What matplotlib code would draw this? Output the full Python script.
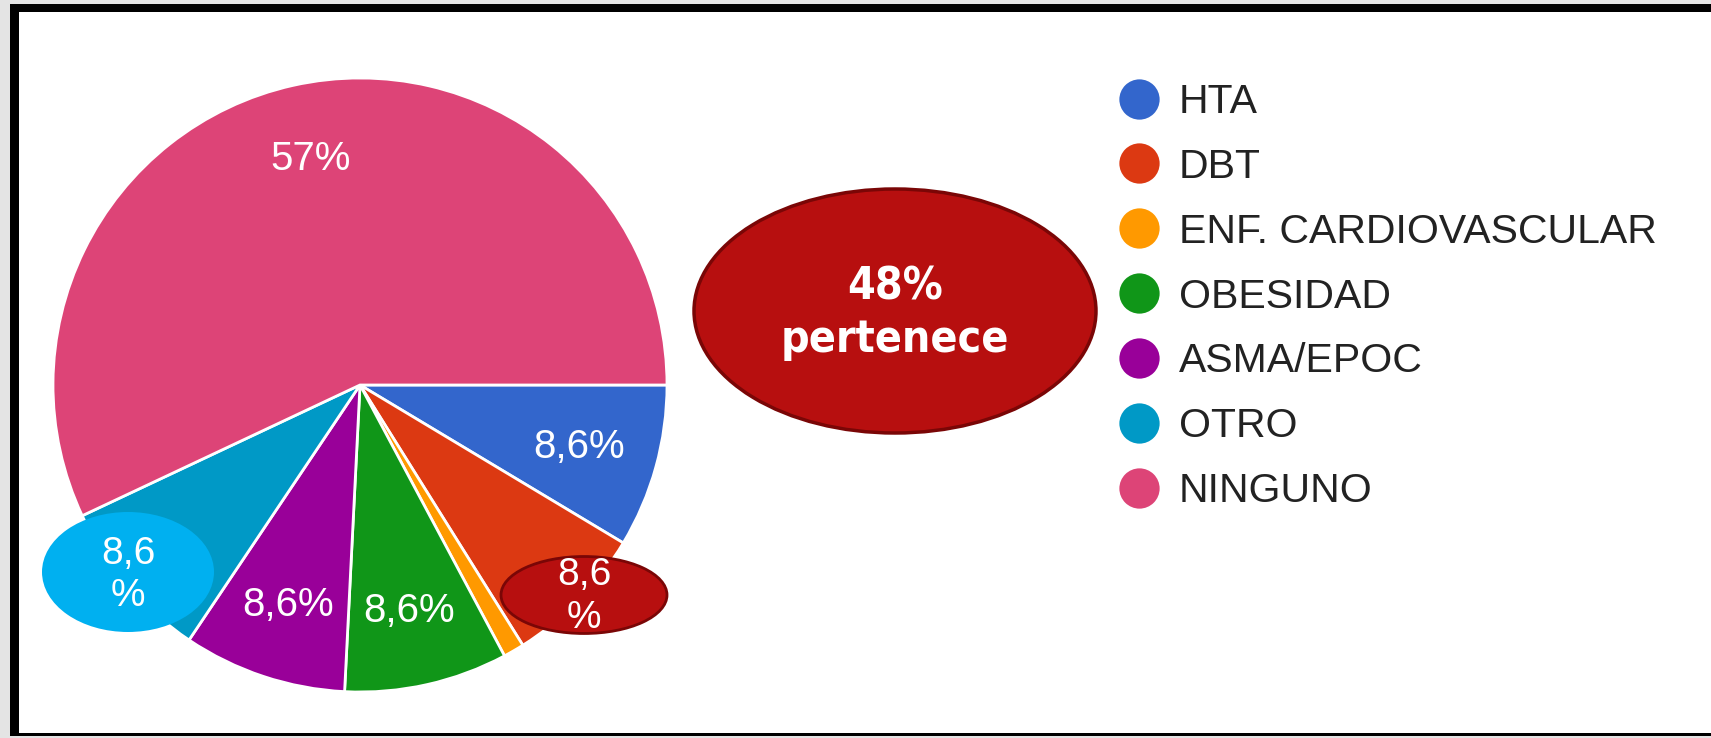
import matplotlib
matplotlib.use('Agg')
import matplotlib.pyplot as plt
import numpy as np
from matplotlib import font_manager
from matplotlib.patches import Ellipse, Rectangle
from matplotlib.lines import Line2D

# datos
categorias = ['HTA', 'DBT', 'ENF. CARDIOVASCULAR', 'OBESIDAD', 'ASMA/EPOC', 'OTRO', 'NINGUNO']
valores = [8.6, 7.5, 1.1, 8.6, 8.6, 8.6, 57.0]
etiquetas = ['8,6%', '', '', '8,6%', '8,6%', '', '57%']
colores = ['#3366cc', '#dc3912', '#ff9900', '#109618', '#990099', '#0099c6', '#dd4477']
texto_globo = '48%\npertenece'
texto_otro = '8,6\n%'
texto_dbt = '8,6\n%'

W, H = 1711, 738
plt.rcParams['font.family'] = ['Liberation Sans', 'DejaVu Sans']

# fuente angosta para el globo, si hay alguna instalada
angosta = None
for f in font_manager.fontManager.ttflist:
    if ('Narrow' in f.name or 'Condensed' in f.name or f.stretch == 'condensed'
            or f.stretch == 500) and f.weight in ('bold', 700, 800, 900, 'heavy', 'black'):
        angosta = f
        break
if angosta is not None:
    globo_kw = dict(fontproperties=font_manager.FontProperties(fname=angosta.fname, size=32))
else:
    globo_kw = dict(fontsize=31, fontweight='bold')

fig = plt.figure(figsize=(W / 100, H / 100), dpi=100)
fig.patch.set_facecolor('#e4e4e4')
ax = fig.add_axes([0, 0, 1, 1])

# torta
cx, cy, r = 360, H - 385, 307
wedges, _ = ax.pie(valores, colors=colores, startangle=0, counterclock=False,
                   center=(cx, cy), radius=r,
                   wedgeprops=dict(edgecolor='white', linewidth=2))
# pie() cambia los limites, se fijan despues
ax.set_xlim(0, W)
ax.set_ylim(0, H)
ax.set_aspect('equal')
ax.axis('off')

# marco
ax.add_patch(Rectangle((10, 2), W, H - 6, facecolor='black', edgecolor='none', zorder=-2))
ax.add_patch(Rectangle((19, 5), W, H - 17, facecolor='white', edgecolor='none', zorder=-1))

for w, lab in zip(wedges, etiquetas):
    if not lab:
        continue
    ang = np.deg2rad((w.theta1 + w.theta2) / 2)
    ax.text(cx + 0.74 * r * np.cos(ang), cy + 0.755 * r * np.sin(ang), lab,
            color='white', fontsize=29, ha='center', va='center', zorder=5)

# globos superpuestos
ax.add_patch(Ellipse((128, H - 572), 172, 120, facecolor='#00b0f0', edgecolor='none', zorder=6))
ax.text(128, H - 575, texto_otro, color='white', fontsize=28, ha='center', va='center',
        linespacing=1.2, zorder=7)

ax.add_patch(Ellipse((584, H - 595), 166, 77, facecolor='#b70f0f', edgecolor='#7a0606',
                     linewidth=2, zorder=6))
ax.text(584, H - 596, texto_dbt, color='white', fontsize=28, ha='center', va='center',
        linespacing=1.25, zorder=7)

ax.add_patch(Ellipse((895, H - 311), 402, 244, facecolor='#b70f0f', edgecolor='#7a0606',
                     linewidth=2.5, zorder=6))
ax.text(895, H - 313, texto_globo, color='white', ha='center', va='center',
        linespacing=1.28, zorder=7, **globo_kw)

# leyenda
handles = [Line2D([], [], linestyle='none', marker='o', markersize=29,
                  markerfacecolor=c, markeredgecolor='none') for c in colores]
ax.legend(handles, categorias, loc='upper left',
          bbox_to_anchor=(1119 / W, 1 - 83 / H), bbox_transform=fig.transFigure,
          frameon=False, fontsize=29.5, labelcolor='#222222', labelspacing=0.655,
          handlelength=0.98, handletextpad=0.48, borderpad=0, borderaxespad=0)

fig.savefig('out.png', dpi=100, facecolor=fig.get_facecolor())
